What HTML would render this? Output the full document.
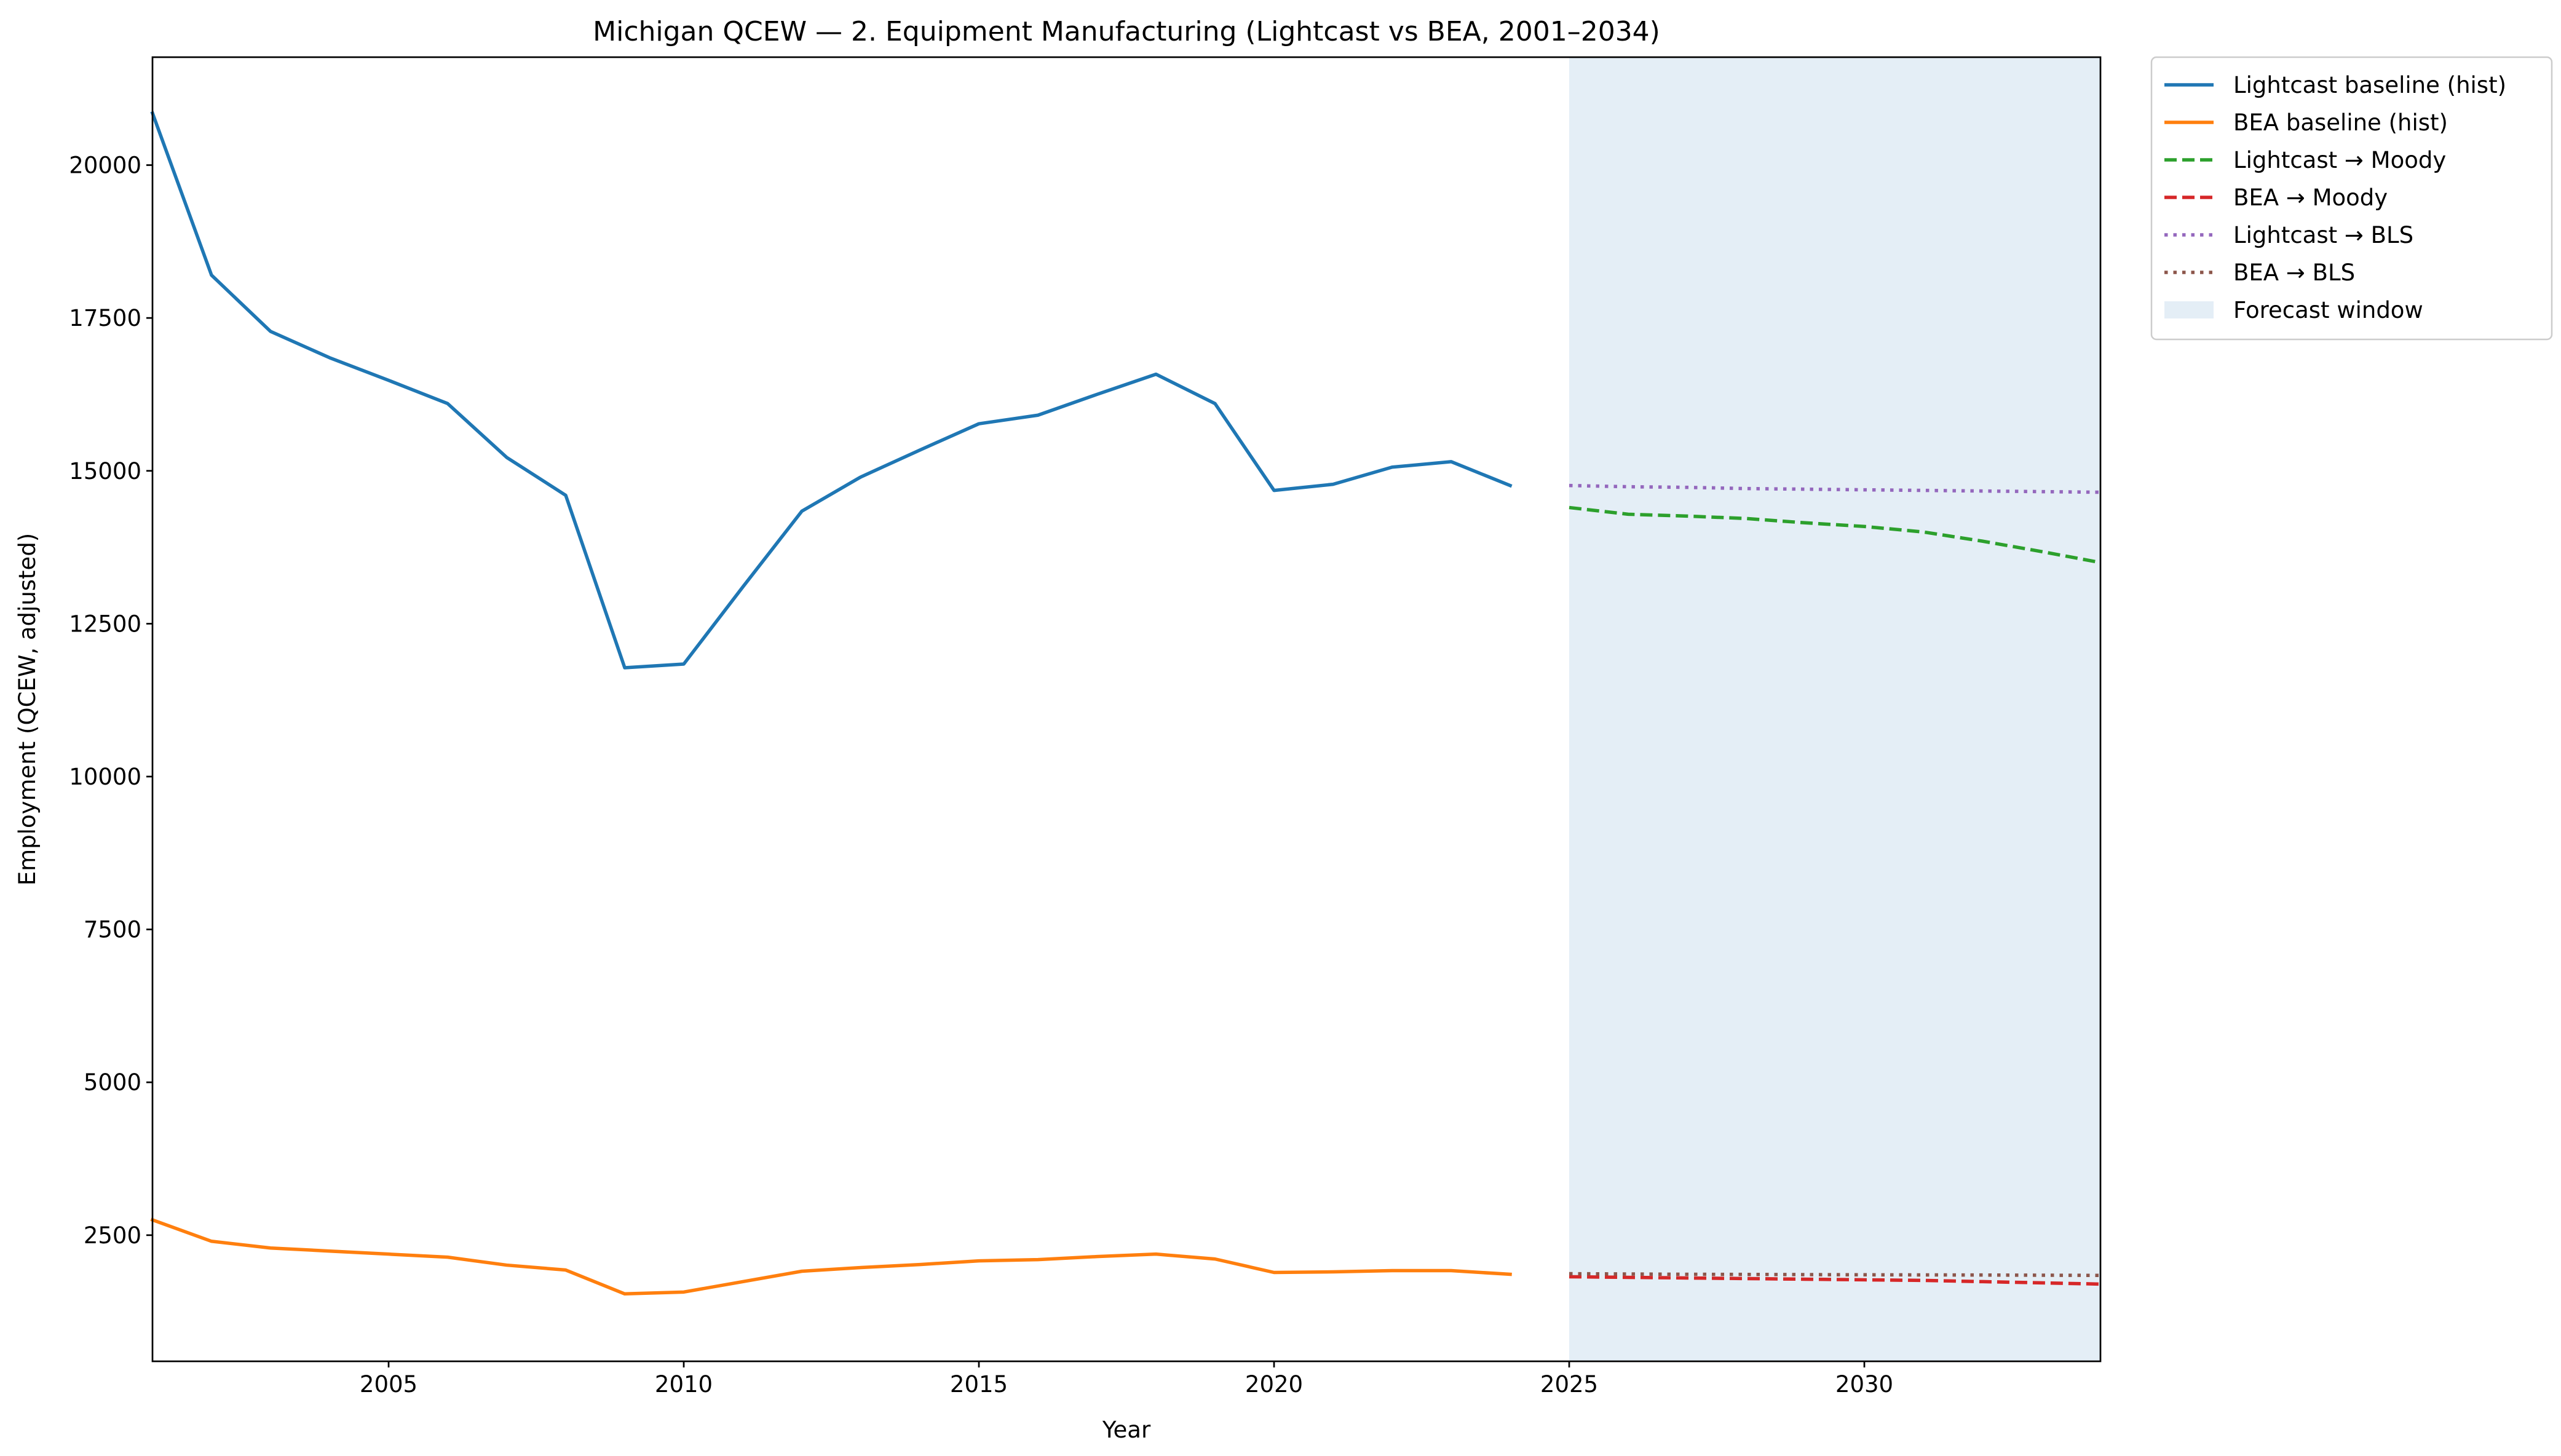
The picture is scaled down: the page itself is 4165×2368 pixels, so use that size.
<!DOCTYPE html>
<html><head><meta charset="utf-8"><style>
html,body{margin:0;padding:0;background:#fff}
svg{display:block;font-family:"DejaVu Sans","Liberation Sans",sans-serif}
</style></head><body>
<svg id="chart" width="4165" height="2368" viewBox="0 0 4165 2368" xmlns="http://www.w3.org/2000/svg">
<rect width="4165" height="2368" fill="#fff"/>
<g id="plot"></g>
</svg>
<script>
const histYears=[2001,2002,2003,2004,2005,2006,2007,2008,2009,2010,2011,2012,2013,2014,2015,2016,2017,2018,2019,2020,2021,2022,2023,2024];
const lightcastHist=[20850,18200,17280,16850,16480,16100,15220,14600,11780,11840,13100,14340,14900,15340,15770,15910,16250,16580,16100,14680,14780,15060,15150,14760];
const beaHist=[2750,2400,2290,2240,2190,2140,2010,1930,1540,1570,1740,1910,1970,2020,2080,2100,2150,2190,2110,1890,1900,1920,1920,1860];
const fcYears=[2025,2026,2027,2028,2029,2030,2031,2032,2033,2034];
const lcMoody=[14400,14290,14260,14220,14150,14090,14000,13850,13680,13500];
const beaMoody=[1820,1810,1800,1790,1780,1770,1760,1740,1720,1700];
const lcBls=[14760,14740,14730,14710,14700,14690,14680,14670,14660,14650];
const beaBls=[1870,1865,1860,1858,1855,1852,1850,1848,1845,1842];
const xTicks=[2005,2010,2015,2020,2025,2030];
const yTicks=[2500,5000,7500,10000,12500,15000,17500,20000];

const L=248,R=3416,T=93,B=2214;
const xMin=2001,xMax=2034,yMin=437,yMax=21765;
const X=v=>L+(v-xMin)/(xMax-xMin)*(R-L);
const Y=v=>B-(v-yMin)/(yMax-yMin)*(B-T);
const NS="http://www.w3.org/2000/svg";
const g=document.getElementById('plot');
function mk(tag,attrs,parent){const e=document.createElementNS(NS,tag);for(const k in attrs)e.setAttribute(k,attrs[k]);(parent||g).appendChild(e);return e;}

const fw=mk('rect',{x:X(2025),y:T,width:R-X(2025),height:B-T,fill:'#1f77b4','fill-opacity':0.12});



function line(xs,ys,color,dash,name){
  const p=mk('polyline',{points:xs.map((x,i)=>X(x)+','+Y(ys[i])).join(' '),fill:'none',stroke:color,'stroke-width':5.5,'stroke-dasharray':dash||'none','stroke-linecap':dash?'butt':'square','stroke-linejoin':'round'});
  
  
}
line(histYears,lightcastHist,'#1f77b4',null,'lightcast-hist-line');
line(histYears,beaHist,'#ff7f0e',null,'bea-hist-line');
line(fcYears,lcMoody,'#2ca02c','20,9','lightcast-moody-line');
line(fcYears,beaMoody,'#d62728','20,9','bea-moody-line');
line(fcYears,lcBls,'#9467bd','5.5,9','lightcast-bls-line');
line(fcYears,beaBls,'#8c564b','5.5,9','bea-bls-line');

const frame=mk('rect',{x:L,y:T,width:R-L,height:B-T,fill:'none',stroke:'#000','stroke-width':2.7});



xTicks.forEach(v=>{
  mk('line',{x1:X(v),x2:X(v),y1:B,y2:B+10,stroke:'#000','stroke-width':2.7});
  const t=mk('text',{x:X(v),y:B+50,'text-anchor':'middle','font-size':37});
  t.textContent=v;
  
  
});
yTicks.forEach(v=>{
  mk('line',{x1:L-10,x2:L,y1:Y(v),y2:Y(v),stroke:'#000','stroke-width':2.7});
  const t=mk('text',{x:L-18,y:Y(v)+13,'text-anchor':'end','font-size':37});
  t.textContent=v;
  
  
});
const xt=mk('text',{x:(L+R)/2,y:2338,'text-anchor':'middle','font-size':37});
xt.textContent='Year';


const yt=mk('text',{x:0,y:0,'text-anchor':'middle','font-size':37,transform:`translate(57,${(T+B)/2}) rotate(-90)`});
yt.textContent='Employment (QCEW, adjusted)';


const tt=mk('text',{x:(L+R)/2,y:66,'text-anchor':'middle','font-size':44});
tt.textContent='Michigan QCEW — 2. Equipment Manufacturing (Lightcast vs BEA, 2001–2034)';



const lg=mk('g',{});


mk('rect',{x:3499,y:93,width:651,height:459,rx:8,fill:'#fff',stroke:'#ccc','stroke-width':2.5},lg);
const entries=[['Lightcast baseline (hist)','#1f77b4',null],['BEA baseline (hist)','#ff7f0e',null],['Lightcast → Moody','#2ca02c','20,9'],['BEA → Moody','#d62728','20,9'],['Lightcast → BLS','#9467bd','5.5,9'],['BEA → BLS','#8c564b','5.5,9'],['Forecast window',null,null]];
entries.forEach((e,i)=>{
  const y=138+i*61;
  if(e[1]) mk('line',{x1:3520,x2:3600,y1:y,y2:y,stroke:e[1],'stroke-width':5.5,'stroke-dasharray':e[2]||'none'},lg);
  else mk('rect',{x:3520,y:y-14,width:80,height:28,fill:'#1f77b4','fill-opacity':0.12},lg);
  const t=mk('text',{x:3632,y:y+13,'font-size':37},lg);
  t.textContent=e[0];
  
  
});
</script>
</body></html>
